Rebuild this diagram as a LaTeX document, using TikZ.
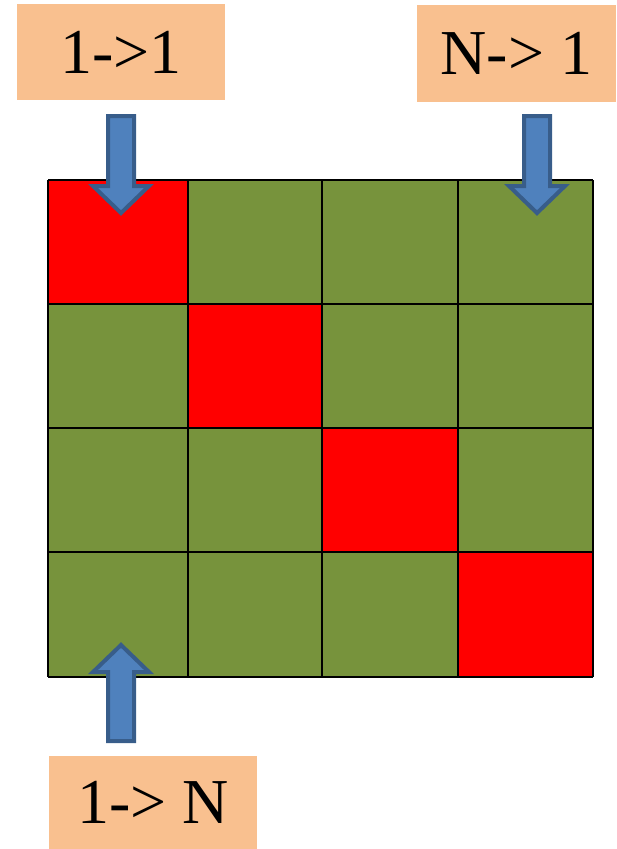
\documentclass[tikz,border=0pt]{standalone}
\usepackage{fontspec}
\setmainfont{Liberation Serif}
\definecolor{peach}{HTML}{F9C08F}
\definecolor{olive}{HTML}{77933C}
\definecolor{arrfill}{HTML}{4F81BD}
\definecolor{arrline}{HTML}{385D8A}
\begin{document}
\begin{tikzpicture}[x=1pt,y=-1pt,
  labelbox/.style={fill=peach, inner sep=0pt, font=\fontsize{64}{64}\selectfont},
  greencell/.style={fill=olive},
  redcell/.style={fill=red},
  gridline/.style={draw=black, line width=2.5pt},
  blockarr/.style={fill=arrfill, draw=arrline, line width=4pt, line join=miter}]
\useasboundingbox (0,0) rectangle (616,849);
% label boxes
\node[labelbox, minimum width=208pt, minimum height=96pt] (l11) at (121,52) {1->1};
\node[labelbox, minimum width=199pt, minimum height=97pt] (ln1) at (516.5,53) {N-> 1};
\node[labelbox, minimum width=208pt, minimum height=93pt] (l1n) at (153,802.5) {1-> N};
% grid cells
\def\xs{{48,188,322,458,593}}
\def\ys{{180,304,428,552,677}}
\foreach \i in {0,...,3}{
  \foreach \j in {0,...,3}{
    \pgfmathsetmacro\xa{\xs[\i]}
    \pgfmathsetmacro\xb{\xs[\i+1]}
    \pgfmathsetmacro\ya{\ys[\j]}
    \pgfmathsetmacro\yb{\ys[\j+1]}
    \ifnum\i=\j
      \path[redcell] (\xa,\ya) rectangle (\xb,\yb);
    \else
      \path[greencell] (\xa,\ya) rectangle (\xb,\yb);
    \fi
  }
}
\foreach \i in {0,...,4}{
  \pgfmathsetmacro\xa{\xs[\i]}
  \pgfmathsetmacro\ya{\ys[\i]}
  \draw[gridline] (\xa,180) -- (\xa,677);
  \draw[gridline] (48,\ya) -- (593,\ya);
}
% arrows
\foreach \cx in {121,537}{
  \draw[blockarr] (\cx-13,116) -- (\cx+13,116) -- (\cx+13,186) -- (\cx+28,186) -- (\cx,213) -- (\cx-28,186) -- (\cx-13,186) -- cycle;
}
\draw[blockarr] (121-13,741) -- (121+13,741) -- (121+13,672) -- (121+28,672) -- (121,645) -- (121-28,672) -- (121-13,672) -- cycle;
\end{tikzpicture}
\end{document}
